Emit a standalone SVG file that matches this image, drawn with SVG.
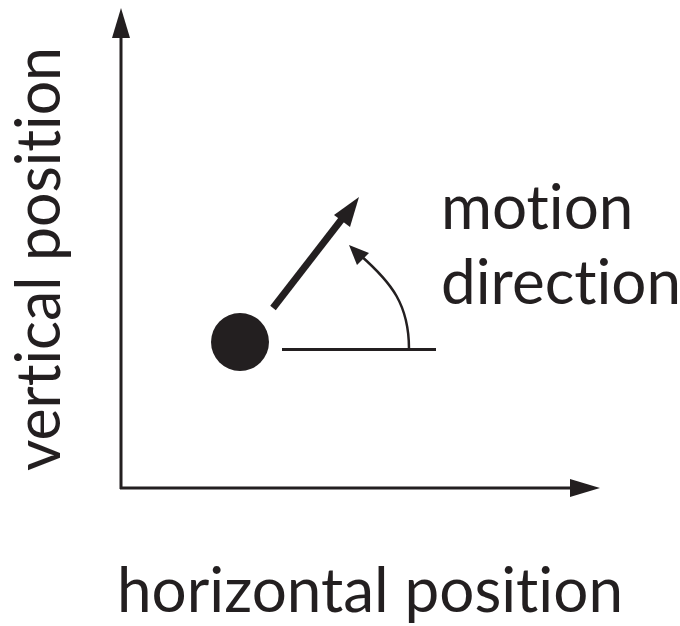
<svg xmlns="http://www.w3.org/2000/svg" width="680" height="626" viewBox="0 0 680 626">
<style>
text{font-family:Lato,"Open Sans","Liberation Sans",sans-serif;font-size:62px;fill:#231f20;font-variant-ligatures:none;font-feature-settings:"liga" 0,"clig" 0}
.ax{stroke:#231f20;stroke-width:3;fill:none}
</style>
<rect width="680" height="626" fill="#fff"/>
<g id="connectors">
<line class="ax" x1="121" y1="489" x2="121" y2="34"/>
<polygon points="121,8 130,38 112,38" fill="#231f20"/>
<line class="ax" x1="120" y1="488" x2="574" y2="488"/>
<polygon points="600,488 570,479 570,497" fill="#231f20"/>
<line x1="282" y1="349.5" x2="436" y2="349.5" stroke="#231f20" stroke-width="3"/>
<line x1="273" y1="308" x2="345" y2="215" stroke="#231f20" stroke-width="7"/>
<polygon points="359,197 350,227 334,215" fill="#231f20"/>
<path d="M409,349 C409,305 392,283 360,255" stroke="#231f20" stroke-width="2.5" fill="none"/>
<polygon points="349,245 369,253 357,265" fill="#231f20"/>
</g>
<g id="ball"><circle cx="240" cy="342" r="29" fill="#231f20"/></g>
<g id="labels">
<text x="441" y="229">motion</text>
<text x="441" y="304">direction</text>
<text x="370" y="612" text-anchor="middle">horizontal position</text>
<text transform="translate(60,259) rotate(-90)" text-anchor="middle" textLength="424" lengthAdjust="spacingAndGlyphs">vertical position</text>
</g>
</svg>
